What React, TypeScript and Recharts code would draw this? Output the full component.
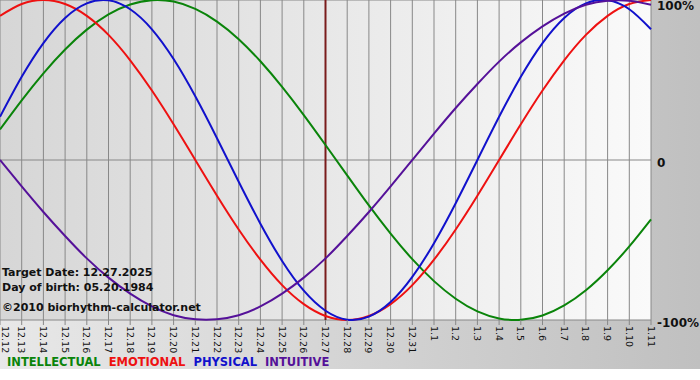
import { CartesianGrid, Line, LineChart, ReferenceLine, XAxis, YAxis } from "recharts";

const dayLabels = [
  "12.12", "12.13", "12.14", "12.15", "12.16", "12.17", "12.18", "12.19", "12.20", "12.21",
  "12.22", "12.23", "12.24", "12.25", "12.26", "12.27", "12.28", "12.29", "12.30", "12.31",
  "1.1", "1.2", "1.3", "1.4", "1.5", "1.6", "1.7", "1.8", "1.9", "1.10", "1.11",
];

// values in percent
const intellectual = [19.1, 37.3, 54.2, 69.1, 81.5, 91.0, 97.2, 99.9, 99.0, 94.4, 86.5, 75.5, 61.7, 45.7, 28.1, 9.4, -9.6, -28.4, -46.0, -62.0, -75.7, -86.7, -94.6, -99.0, -99.9, -97.2, -90.9, -81.4, -68.9, -54.0, -37.1];
const emotional = [90.1, 97.5, 100, 97.5, 90.1, 78.2, 62.3, 43.4, 22.3, 0, -22.3, -43.4, -62.3, -78.2, -90.1, -97.5, -100, -97.5, -90.1, -78.2, -62.3, -43.4, -22.3, 0, 22.3, 43.4, 62.3, 78.2, 90.1, 97.5, 100];
const physical = [27.0, 52.0, 73.1, 88.8, 97.9, 99.8, 94.2, 81.7, 63.1, 39.8, 13.6, -13.6, -39.8, -63.1, -81.7, -94.2, -99.8, -97.9, -88.8, -73.1, -52.0, -27.0, 0, 27.0, 52.0, 73.1, 88.8, 97.9, 99.8, 94.2, 81.7];
const intuitive = [0, -16.5, -32.5, -47.5, -61.5, -73.5, -83.5, -91.5, -97, -99.5, -99.5, -97, -91.5, -83.5, -73.5, -61.5, -47.5, -32.5, -16.5, 0, 16.5, 32.5, 47.5, 61.5, 73.5, 83.5, 91.5, 97, 99.5, 99.5, 97];

const targetIndex = 15;
const yTicks = [-100, 0, 100];

const series = [
  { key: "intellectual", name: "INTELLECTUAL", color: "#0a840a" },
  { key: "emotional", name: "EMOTIONAL", color: "#ee1111" },
  { key: "physical", name: "PHYSICAL", color: "#1111cc" },
  { key: "intuitive", name: "INTUITIVE", color: "#551199" },
];

const data = dayLabels.map((label, i) => ({
  i,
  label,
  intellectual: intellectual[i],
  emotional: emotional[i],
  physical: physical[i],
  intuitive: intuitive[i],
}));

const FONT = "'DejaVu Sans', Verdana, sans-serif";

function DayTick({ x, y, payload }: any) {
  // first label sits on the left edge; nudge it so it stays readable
  const tx = payload.value === 0 ? x + 5 : x;
  return (
    <text
      x={tx}
      y={y - 1}
      transform={`rotate(90 ${tx} ${y - 1})`}
      textAnchor="start"
      dominantBaseline="central"
      fontSize={9.5}
      fontFamily={FONT}
      fill="#111"
    >
      {dayLabels[payload.value]}
    </text>
  );
}

function PercentTick({ y, payload }: any) {
  const v = payload.value;
  const base = v === 100 ? 10 : y + 7;
  return (
    <text x={657} y={base} fontSize={12} fontWeight="bold" fontFamily={FONT} fill="#111">
      {v === 0 ? "0" : `${v}%`}
    </text>
  );
}

export default function App() {
  return (
    <div style={{ position: "fixed", left: 0, top: 0, width: 700, height: 380, background: "#fff", overflow: "hidden" }}>
      <div
        style={{
          position: "absolute",
          left: 0,
          top: 0,
          width: 700,
          height: 369,
          background: "linear-gradient(to right, #e8e8e8, #c0c0c0)",
        }}
      />
      <div
        style={{
          position: "absolute",
          left: 0,
          top: 0,
          width: 651,
          height: 320,
          background: "linear-gradient(to right, #d6d6d6, #fafafa)",
        }}
      />
      <div style={{ position: "absolute", left: 0, top: 0 }}>
        <LineChart width={700} height={369} data={data} margin={{ top: 0, right: 0, bottom: 0, left: 0 }}>
          <CartesianGrid stroke="#888" strokeWidth={1} />
          <XAxis
            dataKey="i"
            type="number"
            domain={[0, dayLabels.length - 1]}
            ticks={data.map((d) => d.i)}
            interval={0}
            height={49}
            axisLine={false}
            tickLine={{ stroke: "#888" }}
            tickSize={5}
            tick={<DayTick />}
          />
          <YAxis
            orientation="right"
            domain={[-100, 100]}
            ticks={yTicks}
            width={49}
            axisLine={false}
            tickLine={false}
            tick={<PercentTick />}
          />
          <ReferenceLine x={targetIndex} stroke="#7a1c1c" strokeWidth={2} />
          {series.map((s) => (
            <Line
              key={s.key}
              dataKey={s.key}
              type="natural"
              stroke={s.color}
              strokeWidth={2}
              dot={false}
              activeDot={false}
              isAnimationActive={false}
            />
          ))}
        </LineChart>
      </div>
      <svg width={700} height={380} style={{ position: "absolute", left: 0, top: 0, pointerEvents: "none" }}>
        <g fontFamily={FONT} fontWeight="bold" fontSize={11} fill="#111">
          <text x={2} y={276}>Target Date: 12.27.2025</text>
          <text x={2} y={291}>Day of birth: 05.20.1984</text>
          <text x={2} y={311}>©2010 biorhythm-calculator.net</text>
        </g>
        <text x={7} y={366} fontFamily={FONT} fontWeight="bold" fontSize={11.5}>
          {series.map((s, k) => (
            <tspan key={s.key} fill={s.color} dx={k === 0 ? 0 : 8}>
              {s.name}
            </tspan>
          ))}
        </text>
      </svg>
    </div>
  );
}
